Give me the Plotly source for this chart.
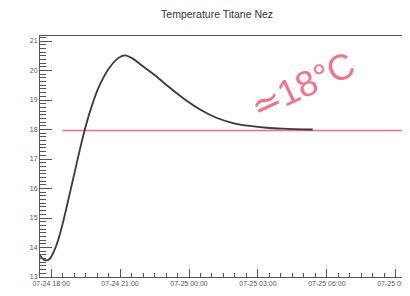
import plotly.graph_objects as go

times = ["2023-07-24 17:31", "2023-07-24 17:44", "2023-07-24 17:55", "2023-07-24 18:10",
         "2023-07-24 18:25", "2023-07-24 18:45", "2023-07-24 19:05", "2023-07-24 19:25",
         "2023-07-24 19:45", "2023-07-24 20:05", "2023-07-24 20:30", "2023-07-24 20:55",
         "2023-07-24 21:12", "2023-07-24 21:31", "2023-07-24 21:58", "2023-07-24 22:31",
         "2023-07-24 23:02", "2023-07-24 23:44", "2023-07-25 00:29", "2023-07-25 01:13",
         "2023-07-25 01:55", "2023-07-25 02:39", "2023-07-25 03:23", "2023-07-25 04:05",
         "2023-07-25 05:23"]
temps = [13.74, 13.57, 13.60, 13.95, 14.55, 15.62, 16.75, 17.85, 18.75, 19.45, 20.05, 20.42,
         20.51, 20.42, 20.16, 19.84, 19.50, 19.07, 18.68, 18.39, 18.22, 18.12, 18.06, 18.03, 18.00]

ref_times = ["2023-07-24 18:29", "2023-07-25 10:00"]
ref_temps = [17.97, 17.97]

title = "Temperature Titane Nez"
note = "≃18°C"

fig = go.Figure()
fig.add_trace(go.Scatter(x=ref_times, y=ref_temps, mode="lines",
                         line=dict(color="#ef6f84", width=1.5), showlegend=False))
fig.add_trace(go.Scatter(x=times, y=temps, mode="lines", line_shape="spline",
                         line=dict(color="#3a3a3a", width=1.8), showlegend=False))

fig.add_annotation(x="2023-07-25 04:55", y=19.5, text=note, showarrow=False,
                   textangle=-25, font=dict(family="Liberation Sans", size=36, color="#ee7489"))

fig.update_layout(
    width=410, height=296,
    margin=dict(l=32, r=8, t=28, b=27),
    paper_bgcolor="white", plot_bgcolor="white",
    title=dict(text=title, x=0.51, xanchor="center", y=0.98, yanchor="middle",
               font=dict(family="Liberation Sans", size=10.5, color="#333")),
    font=dict(family="Liberation Sans", size=7, color="#444"),
)
fig.update_xaxes(type="date", range=["2023-07-24 17:31", "2023-07-25 09:37"],
                 tickformat="%m-%d %H:%M", dtick=3 * 3600000, tick0="2023-07-24 18:00",
                 ticks="inside", ticklen=8, tickcolor="#555", showgrid=False,
                 showline=True, linecolor="#555", linewidth=1, mirror=True, automargin=False,
                 minor=dict(ticks="inside", ticklen=4, dtick=1800000, tickcolor="#555"),
                 zeroline=False, tickfont=dict(size=7, color="#555"))
fig.update_yaxes(range=[13, 21.17], dtick=1, tick0=13, ticks="inside", ticklen=12,
                 tickcolor="#555", showgrid=False, showline=True, linecolor="#555",
                 linewidth=1, automargin=False,
                 minor=dict(ticks="inside", ticklen=6, dtick=0.125, tickcolor="#555"),
                 zeroline=False, tickfont=dict(size=7, color="#555"))

fig.write_html("out.html")
